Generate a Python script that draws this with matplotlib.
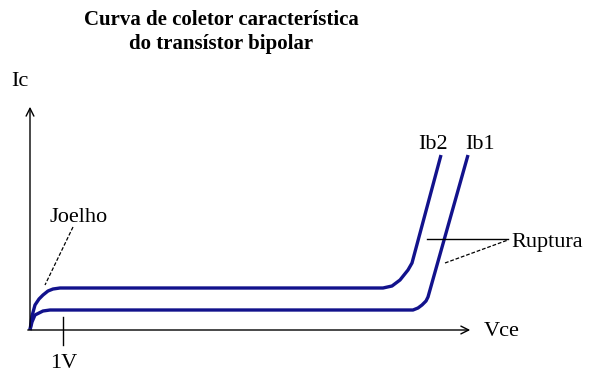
import numpy as np
import matplotlib.pyplot as plt

# curva Ib2 (superior) e Ib1 (inferior), unidades arbitrarias a partir da origem
vce_ib2 = [0, 2, 5, 9, 13, 18, 23, 30, 353, 362, 370, 378, 382, 411]
ic_ib2 = [0, 14, 25, 31, 35, 39, 41, 42, 42, 44, 50, 60, 67, 175]
vce_ib1 = [0, 2, 5, 9, 13, 20, 383, 388, 392, 396, 398, 438]
ic_ib1 = [0, 8, 15, 17, 19, 20, 20, 22, 25, 29, 33, 175]

curve_color = '#12128c'

fig = plt.figure(figsize=(5.94, 3.74), dpi=100)
ax = fig.add_axes([0, 0, 1, 1])
ax.set_xlim(-30, 564)
ax.set_ylim(-44, 330)
ax.axis('off')

serif = 'Liberation Serif'
fs = 16

# eixos com setas
ax.annotate('', xy=(0, 226), xytext=(0, 0),
            arrowprops=dict(arrowstyle='->', color='black', lw=1, mutation_scale=14))
ax.annotate('', xy=(443, 0), xytext=(-5, 0),
            arrowprops=dict(arrowstyle='->', color='black', lw=1, mutation_scale=14))
ax.plot([33, 33], [-15, 13], color='black', lw=1)

ax.plot(vce_ib2, ic_ib2, color=curve_color, lw=2.4, solid_capstyle='butt')
ax.plot(vce_ib1, ic_ib1, color=curve_color, lw=2.4, solid_capstyle='butt')

# textos
ax.text(191, 310, 'Curva de coletor característica', ha='center', va='center',
        fontsize=15, fontweight='bold', family=serif)
ax.text(191, 286, 'do transístor bipolar', ha='center', va='center',
        fontsize=15, fontweight='bold', family=serif)
ax.text(-10, 248, 'Ic', ha='center', va='center', fontsize=fs, family=serif)
ax.text(454, -2, 'Vce', ha='left', va='center', fontsize=fs, family=serif)
ax.text(34, -34, '1V', ha='center', va='center', fontsize=fs, family=serif)
ax.text(403, 186, 'Ib2', ha='center', va='center', fontsize=fs, family=serif)
ax.text(450, 186, 'Ib1', ha='center', va='center', fontsize=fs, family=serif)
ax.text(481, 88, 'Ruptura', ha='left', va='center', fontsize=fs, family=serif)
ax.text(20, 113, 'Joelho', ha='left', va='center', fontsize=fs, family=serif)

# linhas de indicacao
ax.plot([397, 478], [91, 91], color='black', lw=1)
ax.plot([415, 478], [67, 90], color='black', lw=0.9, ls=(0, (3, 1.5)))
ax.plot([43, 15], [103, 45], color='black', lw=0.9, ls=(0, (3, 1.5)))

fig.savefig('out.png', dpi=100)
